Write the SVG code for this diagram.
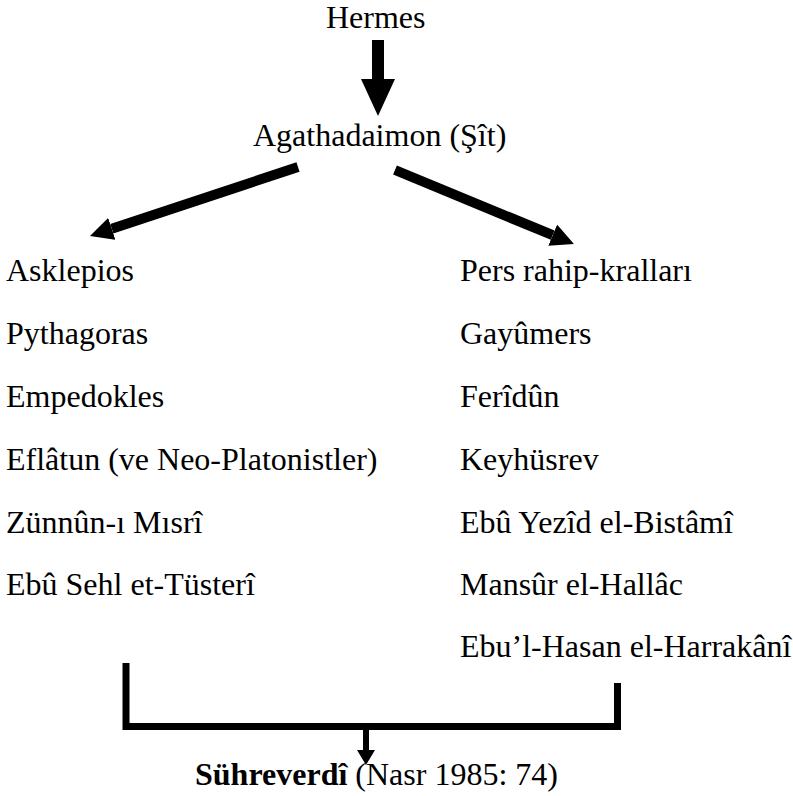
<svg xmlns="http://www.w3.org/2000/svg" width="793" height="796" viewBox="0 0 793 796">
<style>
  text { font-family: "Liberation Serif", "Times New Roman", Times, serif; font-size: 32px; fill: #000; }
  .b { font-weight: bold; }
  .conn { stroke: #000; fill: none; }
  .head { fill: #000; stroke: none; }
</style>
<defs>
  <marker id="arr" viewBox="0 0 10 10" refX="0" refY="5" markerWidth="2.3" markerHeight="2.3" markerUnits="strokeWidth" orient="auto">
    <path d="M0,0 L10,5 L0,10 z" fill="#000"/>
  </marker>
</defs>
<rect width="793" height="796" fill="#fff"/>
<g id="connectors">
  <rect class="head" x="372" y="40" width="12" height="40"/>
  <polygon class="head" points="361,79 395,79 378,116"/>
  <line class="conn" x1="298" y1="167" x2="111.8" y2="228.8" stroke-width="10" marker-end="url(#arr)"/>
  <line class="conn" x1="395" y1="170" x2="552.7" y2="235.2" stroke-width="10" marker-end="url(#arr)"/>
  <path class="conn" d="M126,663 V726.5 H617.5 V683" stroke-width="7"/>
  <rect class="head" x="363" y="729" width="6" height="22"/>
  <polygon class="head" points="357,750 375,750 366,765"/>
</g>
<g font-family="Liberation Serif, serif" font-size="32">
<g id="hermes"><text x="326" y="28">Hermes</text></g>
<g id="agathadaimon"><text x="253" y="146">Agathadaimon (Şît)</text></g>
<g id="left-list">
  <g id="asklepios"><text x="6" y="281">Asklepios</text></g>
  <g id="pythagoras"><text x="6" y="344">Pythagoras</text></g>
  <g id="empedokles"><text x="6" y="407">Empedokles</text></g>
  <g id="eflatun"><text x="6" y="470">Eflâtun (ve Neo-Platonistler)</text></g>
  <g id="zunnun"><text x="6" y="533">Zünnûn-ı Mısrî</text></g>
  <g id="ebu-sehl"><text x="6" y="595">Ebû Sehl et-Tüsterî</text></g>
</g>
<g id="right-list">
  <g id="pers"><text x="460" y="281">Pers rahip-kralları</text></g>
  <g id="gayumers"><text x="460" y="344">Gayûmers</text></g>
  <g id="feridun"><text x="460" y="407">Ferîdûn</text></g>
  <g id="keyhusrev"><text x="460" y="470">Keyhüsrev</text></g>
  <g id="bistami"><text x="460" y="533">Ebû Yezîd el-Bistâmî</text></g>
  <g id="hallac"><text x="460" y="595">Mansûr el-Hallâc</text></g>
  <g id="harrakani"><text x="460" y="657">Ebu’l-Hasan el-Harrakânî</text></g>
</g>
<g id="suhreverdi"><text x="195" y="785"><tspan class="b">Sühreverdî</tspan> (Nasr 1985: 74)</text></g>
</g>
</svg>
